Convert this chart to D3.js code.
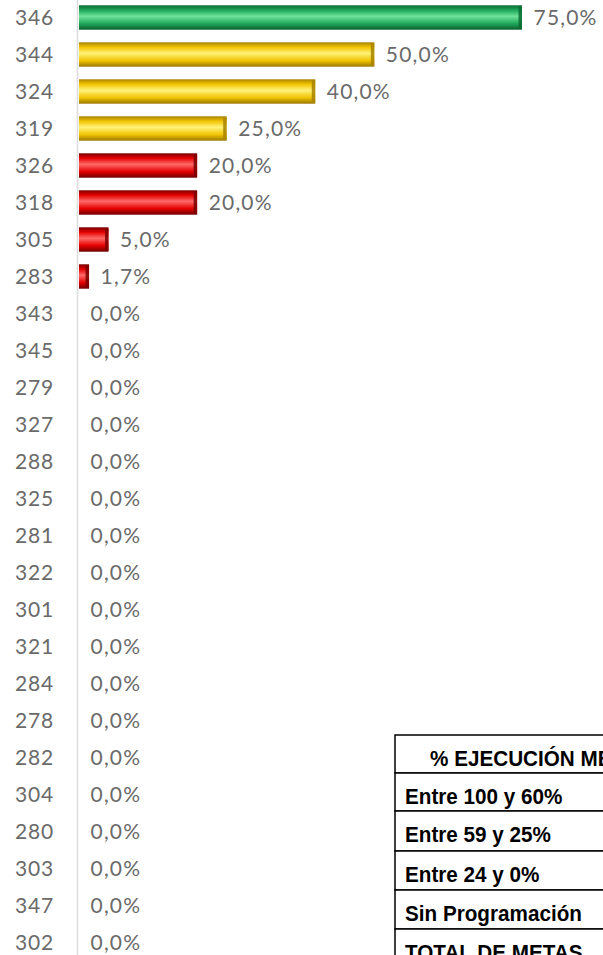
<!DOCTYPE html>
<html>
<head>
<meta charset="utf-8">
<script src="https://cdn.jsdelivr.net/npm/d3@7"></script>
<style>
  body { margin: 0; background: #fff; overflow: hidden; }
  svg { display: block; }
</style>
</head>
<body>
<div id="chart"></div>
<script>
// metas y porcentaje de ejecución (orden del gráfico)
const metas = ["346","344","324","319","326","318","305","283","343","345","279","327","288","325",
  "281","322","301","321","284","278","282","304","280","303","347","302"];
const ejecucion = [75, 50, 40, 25, 20, 20, 5, 1.7, 0, 0, 0, 0, 0, 0, 0, 0, 0, 0, 0, 0, 0, 0, 0, 0, 0, 0];

// tabla de rangos
const tablaHeader = "% EJECUCIÓN METAS";
const tablaFilas = ["Entre 100 y 60%", "Entre 59 y 25%", "Entre 24 y 0%", "Sin Programación", "TOTAL DE METAS"];

const width = 603, height = 955;

const svg = d3.select("#chart").append("svg")
  .attr("width", width)
  .attr("height", height);

const x = d3.scaleLinear().domain([0, 75]).range([78.5, 521.5]);
const y = d3.scaleBand().domain(metas).range([-1, 961]).paddingInner(0.34).paddingOuter(0.17);

// gradientes tipo cilindro
const defs = svg.append("defs");
const colores = {
  green: ["#0b6b34", "#1fa85a", "#6fe39a", "#1fa85a", "#0a5e2d"],
  yellow: ["#a88400", "#f2c400", "#fff27a", "#f2c400", "#9a7800"],
  red: ["#7a0000", "#e40000", "#ff6a6a", "#e40000", "#700000"]
};
Object.entries(colores).forEach(([k, c]) => {
  const g = defs.append("linearGradient").attr("id", "g-" + k)
    .attr("x1", 0).attr("y1", 0).attr("x2", 0).attr("y2", 1);
  [0, 0.2, 0.45, 0.75, 1].forEach((o, i) => {
    g.append("stop").attr("offset", o).attr("stop-color", c[i]);
  });
});
function colorDe(v) {
  if (v >= 60) return "green";
  if (v >= 25) return "yellow";
  return "red";
}

// eje vertical
svg.append("line")
  .attr("x1", 77.5).attr("x2", 77.5)
  .attr("y1", 0).attr("y2", height)
  .attr("stroke", "#dcdcdc").attr("stroke-width", 1.5);

const data = metas.map((m, i) => ({ meta: m, v: ejecucion[i] }));

// barras
svg.selectAll("rect.bar")
  .data(data.filter(d => d.v > 0))
  .enter().append("rect")
  .attr("class", "bar")
  .attr("x", x(0) + 0.5)
  .attr("y", d => y(d.meta))
  .attr("width", d => x(d.v) - x(0))
  .attr("height", y.bandwidth())
  .attr("fill", d => "url(#g-" + colorDe(d.v) + ")");

// extremo oscuro de cada barra
svg.selectAll("rect.cap")
  .data(data.filter(d => d.v > 0))
  .enter().append("rect")
  .attr("class", "cap")
  .attr("x", d => x(d.v) - 3)
  .attr("y", d => y(d.meta) + 1)
  .attr("width", 3.5)
  .attr("height", y.bandwidth() - 2)
  .attr("fill", d => colores[colorDe(d.v)][0])
  .attr("opacity", 0.85);

const fuente = "Lato, 'Open Sans', sans-serif";

// etiquetas de categoría
svg.selectAll("text.cat")
  .data(data)
  .enter().append("text")
  .attr("class", "cat")
  .attr("x", 54)
  .attr("y", d => y(d.meta) + y.bandwidth() / 2)
  .attr("dy", "0.35em")
  .attr("text-anchor", "end")
  .attr("font-family", fuente)
  .attr("font-size", 21)
  .attr("letter-spacing", 0.8)
  .attr("fill", "#6a6a6a")
  .text(d => d.meta);

// etiquetas de valor
const fmt = v => v.toFixed(1).replace(".", ",") + "%";
svg.selectAll("text.val")
  .data(data)
  .enter().append("text")
  .attr("class", "val")
  .attr("x", d => x(d.v) + 12)
  .attr("y", d => y(d.meta) + y.bandwidth() / 2)
  .attr("dy", "0.35em")
  .attr("font-family", fuente)
  .attr("font-size", 21)
  .attr("letter-spacing", 1.2)
  .attr("fill", "#6a6a6a")
  .text(d => fmt(d.v));

// tabla
const tx = 395, ty = 735;
const rowH = [38, 38, 40, 39, 39, 39];
const filas = [tablaHeader].concat(tablaFilas);
let cy = ty;
const tabla = svg.append("g");
filas.forEach((t, i) => {
  tabla.append("rect")
    .attr("x", tx).attr("y", cy)
    .attr("width", 400).attr("height", rowH[i])
    .attr("fill", "#fff")
    .attr("stroke", "#000").attr("stroke-width", 1.5);
  tabla.append("text")
    .attr("transform", `translate(${i === 0 ? 430 : 405},${cy + 31}) scale(0.94,1)`)
    .attr("font-family", "'Liberation Sans', Arial, sans-serif")
    .attr("font-weight", "bold")
    .attr("font-size", 22)
    .attr("fill", "#000")
    .text(t);
  cy += rowH[i];
});
</script>
</body>
</html>
